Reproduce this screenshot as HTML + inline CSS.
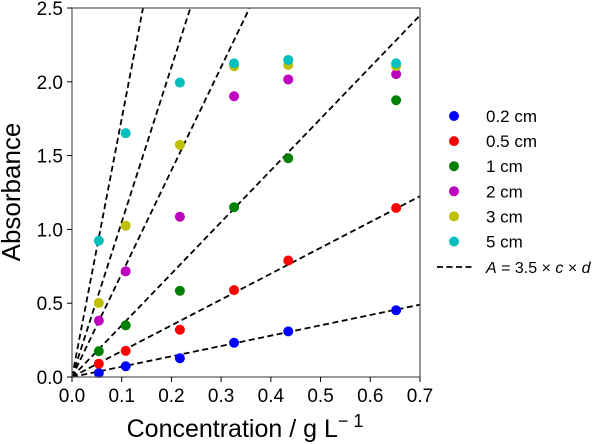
<!DOCTYPE html>
<html><head><meta charset="utf-8"><style>
html,body{margin:0;padding:0;background:#fff;}
svg{display:block;font-family:"Liberation Sans",sans-serif;}
</style></head><body>
<svg id="chart" width="605" height="444"></svg>
<script>
const conc=[0.054,0.108,0.217,0.326,0.435,0.652];
const series=['0.2 cm','0.5 cm','1 cm','2 cm','3 cm','5 cm'];
const pathLengths=[0.2,0.5,1,2,3,5];
const colors=['#0000ff','#ff0000','#008000','#bf00bf','#bfbf00','#00bfbf'];
const vals02=[0.027,0.073,0.127,0.232,0.309,0.452];
const vals05=[0.09,0.177,0.32,0.589,0.789,1.145];
const vals1=[0.175,0.35,0.584,1.15,1.482,1.875];
const vals2=[0.382,0.716,1.086,1.902,2.016,2.052];
const vals3=[0.502,1.025,1.573,2.105,2.114,2.107];
const vals5=[0.923,1.652,1.995,2.125,2.148,2.125];
const allVals=[vals02,vals05,vals1,vals2,vals3,vals5];
const xTicks=[0,0.1,0.2,0.3,0.4,0.5,0.6,0.7];
const yTicks=[0,0.5,1.0,1.5,2.0,2.5];
const coef=3.5;
const L=72,R=420,T=8,B=377,xMax=0.7,yMax=2.5;
const X=v=>L+(R-L)*v/xMax, Y=v=>B-(B-T)*v/yMax;
const NS='http://www.w3.org/2000/svg', svg=document.getElementById('chart');
function mk(t,a,p){const e=document.createElementNS(NS,t);for(const k in a)e.setAttribute(k,a[k]);(p||svg).appendChild(e);return e;}
const defs=mk('defs',{});const cp=mk('clipPath',{id:'clip'},defs);mk('rect',{x:L,y:T,width:R-L,height:B-T},cp);
const lines=mk('g',{'clip-path':'url(#clip)'});


pathLengths.forEach((d,i)=>{
 const l=mk('line',{x1:X(0),y1:Y(0),x2:X(xMax),y2:Y(coef*d*xMax),stroke:'#000','stroke-width':1.8,'stroke-dasharray':'6,3.5'},lines);
 
 
});
allVals.forEach((arr,i)=>{
 const g=mk('g',{fill:colors[i]});
 
 
 arr.forEach((v,j)=>{const c=mk('circle',{cx:X(conc[j]),cy:Y(v),r:5},g);
 
 });
});
const frame=mk('rect',{x:L,y:T,width:R-L,height:B-T,fill:'none',stroke:'#555','stroke-width':1.2});


xTicks.forEach(t=>{mk('line',{x1:X(t),x2:X(t),y1:B,y2:B+5,stroke:'#000'});
 const tx=mk('text',{x:X(t),y:B+25,'text-anchor':'middle','font-size':19});tx.textContent=t.toFixed(1);
 
 });
yTicks.forEach(t=>{mk('line',{x1:L-5,x2:L,y1:Y(t),y2:Y(t),stroke:'#000'});
 const tx=mk('text',{x:L-9,y:Y(t)+7,'text-anchor':'end','font-size':19});tx.textContent=t.toFixed(1);
 
 });
const xl=mk('text',{x:245,y:437,'text-anchor':'middle','font-size':25});
xl.innerHTML='Concentration / g L<tspan dy="-10" font-size="18">\u2212 1</tspan>';


const yl=mk('text',{x:0,y:0,'text-anchor':'middle','font-size':26,transform:'translate(20,192) rotate(-90)'});
yl.textContent='Absorbance';


const leg=mk('g',{});


series.forEach((s,i)=>{const y=116+i*25.1;
 const e=mk('g',{},leg);
 
 
 mk('circle',{cx:454,cy:y,r:5,fill:colors[i]},e);
 const t=mk('text',{x:486,y:y+6,'font-size':17},e);t.textContent=s;});
const le=mk('g',{},leg);


mk('line',{x1:437,x2:473,y1:267,y2:267,stroke:'#000','stroke-width':1.8,'stroke-dasharray':'6,3.5'},le);
const lt=mk('text',{x:486,y:273,'font-size':16},le);
lt.innerHTML='<tspan font-style="italic">A</tspan> = 3.5 × <tspan font-style="italic">c</tspan> × <tspan font-style="italic">d</tspan>';
</script>
</body></html>
